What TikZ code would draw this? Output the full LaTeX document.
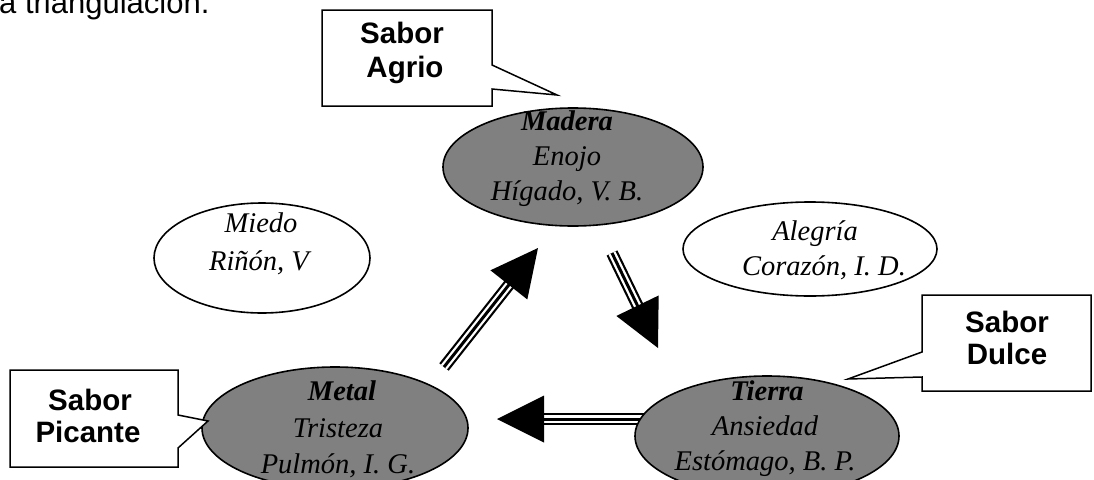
\documentclass[tikz,border=0pt]{standalone}
\usepackage{fontspec}
\setmainfont{Liberation Serif}
\newfontfamily\labelsans{Liberation Sans}
\usetikzlibrary{shapes.geometric,calc}

\tikzset{
  organ/.style={ellipse, draw=black, line width=1.6pt, fill=black!50, inner sep=0pt},
  emotion/.style={ellipse, draw=black, line width=1.6pt, fill=white, inner sep=0pt},
  scriptline/.style={font=\fontsize{28.5}{34}\selectfont\itshape, anchor=base, inner sep=0pt},
  scripthead/.style={font=\fontsize{28.5}{34}\selectfont\bfseries\itshape, anchor=base, inner sep=0pt},
  callout/.style={draw=black, line width=1.5pt, fill=white, line join=miter},
  flavour/.style={font=\labelsans\bfseries\fontsize{29.5}{34}\selectfont, anchor=base, inner sep=0pt},
  caption/.style={font=\labelsans\fontsize{31}{36}\selectfont, anchor=base west, inner sep=0pt},
}

% triple-lined shaft with a solid triangular head, from #1 (tail) to #2 (tip)
\newcommand\triarrow[2]{%
  \coordinate (hb) at ($(#2)!47pt!(#1)$);
  \coordinate (se) at ($(#2)!40pt!(#1)$);
  \draw[black, line width=12pt] (#1) -- (se);
  \draw[white, line width=7.6pt] (#1) -- (se);
  \draw[black, line width=3pt] (#1) -- (se);
  \fill[black] (#2) -- ($(hb)!23.5pt!90:(#2)$) -- ($(hb)!23.5pt!-90:(#2)$) -- cycle;
}

\begin{document}
\begin{tikzpicture}[x=1pt,y=-1pt]
  \fill[white] (0,0) rectangle (1094,479);
  \useasboundingbox (0,0) rectangle (1094,479);

  \node[caption] (cap) at (-1,13) {a triangulación.};

  % arrows of the generating cycle
  \coordinate (upT) at (444,367);
  \coordinate (upH) at (538,248);
  \coordinate (dnT) at (612,253);
  \coordinate (dnH) at (658,348);
  \coordinate (lfT) at (645,419);
  \coordinate (lfH) at (497,419);
  \triarrow{upT}{upH}
  \triarrow{dnT}{dnH}
  \triarrow{lfT}{lfH}

  % elements
  \node[organ, minimum width=260pt, minimum height=118pt] (madera) at (573,167) {};
  \node[emotion, minimum width=216pt, minimum height=110pt] (miedo) at (262,258) {};
  \node[emotion, minimum width=254pt, minimum height=94pt] (alegria) at (810,249) {};
  \node[organ, minimum width=264pt, minimum height=120pt] (tierra) at (767,436) {};
  \node[organ, minimum width=266pt, minimum height=122pt] (metal) at (335,428) {};

  \node[scripthead] (madera1) at (567,130) {Madera};
  \node[scriptline] (madera2) at (567,165) {Enojo};
  \node[scriptline] (madera3) at (567,200) {Hígado, V. B.};

  \node[scriptline] (miedo1) at (261,232) {Miedo};
  \node[scriptline] (miedo2) at (259,270) {Riñón, V};

  \node[scriptline] (alegria1) at (815,240) {Alegría};
  \node[scriptline] (alegria2) at (824,275) {Corazón, I. D.};

  \node[scripthead] (tierra1) at (767,400) {Tierra};
  \node[scriptline] (tierra2) at (765,435) {Ansiedad};
  \node[scriptline] (tierra3) at (765,470) {Estómago, B. P.};

  \node[scripthead] (metal1) at (342,400) {Metal};
  \node[scriptline] (metal2) at (338,437) {Tristeza};
  \node[scriptline] (metal3) at (338,473) {Pulmón, I. G.};

  % flavour callouts
  \draw[callout] (322,10) -- (492,10) -- (492,65) -- (557,95) -- (492,89)
                 -- (492,106) -- (322,106) -- cycle;
  \node[flavour] (agrio1) at (402,43) {Sabor};
  \node[flavour] (agrio2) at (405,77) {Agrio};

  \draw[callout] (922,295) -- (1091,295) -- (1091,391) -- (922,391)
                 -- (922,377) -- (848,379) -- (922,352) -- cycle;
  \node[flavour] (dulce1) at (1007,332) {Sabor};
  \node[flavour] (dulce2) at (1007,364) {Dulce};

  \draw[callout] (10,370) -- (178,370) -- (178,415) -- (208,421) -- (178,448)
                 -- (178,467) -- (10,467) -- cycle;
  \node[flavour] (picante1) at (90,410) {Sabor};
  \node[flavour] (picante2) at (88,442) {Picante};
\end{tikzpicture}
\end{document}
